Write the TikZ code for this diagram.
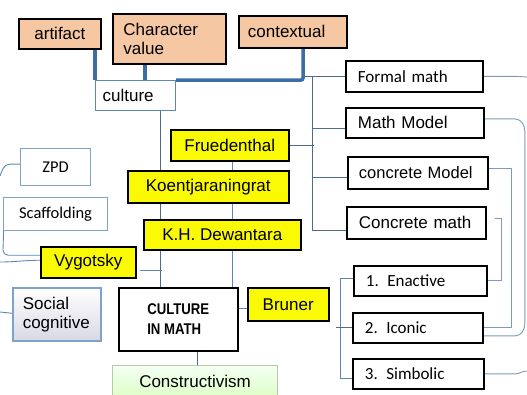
\documentclass[tikz,border=0pt]{standalone}
\usepackage{fontspec}
\setmainfont{Liberation Sans}
\newfontfamily\calfont{Carlito}
\newfontfamily\narrowfont[FakeStretch=0.85]{Liberation Sans}
\usetikzlibrary{calc}
\definecolor{peach}{HTML}{F5C7A2}
\definecolor{yelw}{HTML}{FAFA05}
\definecolor{bluebd}{HTML}{5B88B8}
\definecolor{lightbd}{HTML}{7FA3C8}
\definecolor{thickblue}{HTML}{3D6DA5}
\definecolor{congray}{HTML}{4F6B8A}
\definecolor{conlight}{HTML}{7F9AB8}
\definecolor{greenbd}{HTML}{B8C9A4}
\pgfdeclarelayer{bg}
\pgfsetlayers{bg,main}
\begin{document}
\begin{tikzpicture}[x=1pt,y=-1pt,
  base/.style={anchor=north west, inner sep=0pt, font=\fontsize{17}{19}\selectfont},
  peachbox/.style={base, draw=black, line width=1.8pt, fill=peach},
  yellowbox/.style={base, draw=black, line width=1.5pt, fill=yelw},
  whitebox/.style={base, draw=black, line width=1.8pt, fill=white},
  bluebox/.style={base, draw=bluebd, line width=1.2pt, fill=white},
  lbluebox/.style={base, draw=lightbd, line width=1.2pt, fill=white, font=\calfont\fontsize{16.5}{19}\selectfont},
  calw/.style={font=\calfont\fontsize{17}{19}\selectfont},
  thickcon/.style={draw=thickblue, line width=3.5pt, rounded corners=2pt},
  con/.style={draw=congray, line width=0.9pt},
  conl/.style={draw=conlight, line width=0.9pt},
  conb/.style={draw=bluebd, line width=0.9pt}]
\useasboundingbox (0,0) rectangle (527,394);

% top
\node[peachbox, minimum width=82pt, minimum height=30pt] (art) at (18,18) {artifact};
\node[peachbox, minimum width=113pt, minimum height=50pt, text width=92pt, align=left] (charv) at (112,13) {Character\\value};
\node[peachbox, minimum width=108pt, minimum height=32pt, text width=90pt, align=left] (context) at (238,15) {contextual};
\node[bluebox, minimum width=80pt, minimum height=30pt, text width=66pt, align=left] (culture) at (95,80) {culture};

% yellow
\node[yellowbox, minimum width=118pt, minimum height=31pt] (fru) at (170,129) {Fruedenthal};
\node[yellowbox, minimum width=161pt, minimum height=32pt] (koent) at (127,170) {Koentjaraningrat};
\node[yellowbox, minimum width=157pt, minimum height=30pt] (dewan) at (143,219) {K.H. Dewantara};
\node[yellowbox, minimum width=95pt, minimum height=31pt] (vyg) at (40,246) {Vygotsky};
\node[yellowbox, minimum width=81pt, minimum height=33pt] (bruner) at (247,287) {Bruner};

% centre
\node[whitebox, line width=1.5pt, minimum width=119pt, minimum height=63pt, align=left,
      font=\narrowfont\bfseries\fontsize{15.5}{20}\selectfont] (cim) at (118,287) {CULTURE\\IN MATH};
\node[base, draw=greenbd, line width=1pt, top color=white!40!green!8, bottom color=green!45!lime!22,
      minimum width=165pt, minimum height=32pt] (cons) at (112,365) {Constructivism};

% left
\node[base, draw=lightbd, line width=1.5pt, top color=white, bottom color=blue!20!gray!25,
      minimum width=88pt, minimum height=53pt, text width=68pt, align=left] (soc) at (12,287) {Social\\cognitive};
\node[lbluebox, minimum width=70pt, minimum height=37pt] (zpd) at (20,148) {ZPD};
\node[lbluebox, minimum width=104pt, minimum height=33pt] (scaf) at (3,197) {Scaffolding};

% right
\node[whitebox, calw, minimum width=137pt, minimum height=31pt, text width=113pt, align=left] (formal) at (345,60) {Formal math};
\node[whitebox, minimum width=138pt, minimum height=30pt, text width=114pt, align=left] (mm) at (345,107) {Math Model};
\node[whitebox, minimum width=140pt, minimum height=32pt, text width=118pt, align=left,
      font=\fontsize{16.5}{19}\selectfont] (cmod) at (347,156) {\mbox{concrete Model}};
\node[whitebox, minimum width=139pt, minimum height=32pt, text width=115pt, align=left] (cmath) at (346,206) {Concrete math};
\node[whitebox, calw, minimum width=133pt, minimum height=30pt, text width=109pt, align=left] (ena) at (353,265) {1. Enactive};
\node[whitebox, calw, minimum width=130pt, minimum height=30pt, text width=106pt, align=left] (ico) at (352,312) {2. Iconic};
\node[whitebox, calw, minimum width=131pt, minimum height=30pt, text width=107pt, align=left] (sim) at (352,358) {3. Simbolic};

% free ends
\coordinate (lzpd) at (0,176);
\coordinate (lvyg) at (0,262);
\coordinate (lsoc) at (0,312);
\coordinate (rformal) at (527,77);
\coordinate (rsim) at (527,371);

\begin{pgfonlayer}{bg}
\fill[white] (0,0) rectangle (527,394);
% thick blue
\draw[thickcon] (culture.north west) -- (culture.north west |- art.south);
\draw[thickcon] ($(charv.south west)+(33,0)$) -- ($(culture.north west)+(50,0)$);
\draw[thickcon] (culture.north east) -| ($(context.south west)+(65,0)$);
% centre verticals
\draw[con] ($(culture.south west)+(65,0)$) -- ($(cim.north west)+(42,0)$);
\draw[conb] ($(fru.south west)+(62,0)$) -- ($(cim.north west)+(114,0)$);
\draw[conb] ($(vyg.north east)+(3,24)$) -- ++(22,0);
% Fruedenthal spine
\draw[con] (fru.east) -- ++(24,0);
\draw[con] (formal.west) -- ++(-42,0);
\draw[con] ($(formal.west)+(-33,0)$) |- ($(cmath.west)+(0,8)$);
\draw[con] ($(mm.west)+(0,6)$) -- ++(-33,0);
\draw[con] ($(cmod.west)+(0,5)$) -- ++(-35,0);
% right side
\draw[conl] (formal.east) -- ++(33,0) to[out=0,in=180] (rformal);
\draw[conl] ($(mm.east)+(0,-4)$) -- ++(30,0) to[out=0,in=90] ++(10,12) -- ++(0,193)
   to[out=-90,in=0] ++(-10,12) -- ($(ico.east)+(0,8)$);
\draw[conl] ($(cmod.east)+(0,-4)$) -- ++(23,0) |- (ico.east);
\draw[conl] ($(cmath.east)+(8,-4)$) -- ++(7,0) |- (ena.east);
\draw[conl] (sim.east) -- ++(30,0) to[out=0,in=180] (rsim);
% Bruner bracket
\draw[conb] ($(ena.west)+(0,-2)$) -| ($(sim.west)+(-12,5)$) -- ($(sim.west)+(0,5)$);
\draw[con] ($(ico.west)+(-16,0)$) -- (ico.west);
\draw[conb] ($(bruner.west)+(0,4)$) -- ++(-10,0);
\draw[con] ($(cim.south west)+(79,0)$) -- ($(cons.north west)+(85,0)$);
% left side
\draw[conb] ($(zpd.west)+(0,-3)$) -- ++(-10,0) to[out=180,in=70] (lzpd);
\draw[conb] ($(scaf.west)+(12,2)$) -- ($(scaf.west)+(1,4)$) -- ($(vyg.west)+(-37,-12)$)
   to[out=-90,in=180] ($(vyg.west)+(-32,-7)$) -- ($(vyg.west)+(0,-7)$);
\draw[conb] (lvyg) to[out=0,in=180] ($(vyg.west)+(0,-2)$);
\draw[conb] ($(soc.west)+(0,-1)$) -- (lsoc);
\end{pgfonlayer}
\end{tikzpicture}
\end{document}
